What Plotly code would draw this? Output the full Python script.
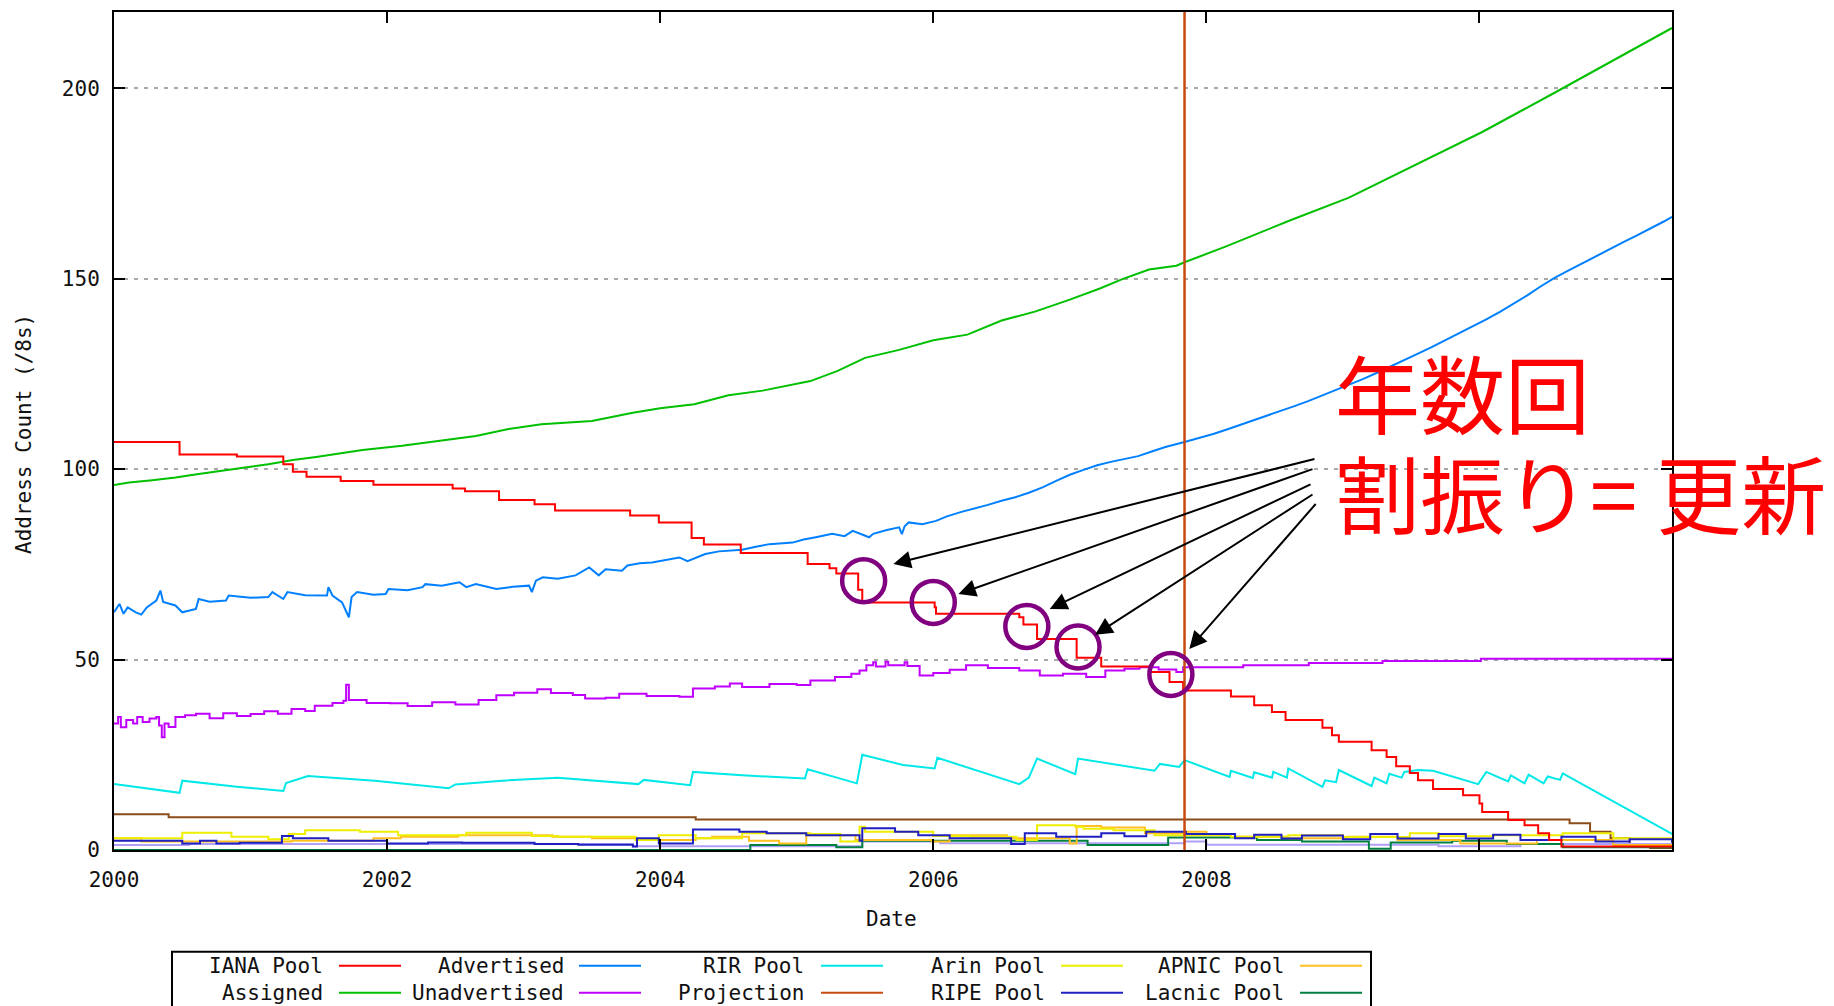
import plotly.graph_objects as go

# ---------------------------------------------------------------------------
# IPv4 address pool history, counts in /8 blocks, keyed by decimal year
# ---------------------------------------------------------------------------
iana_pool = [
    (2000.00, 107.1), (2000.48, 103.8), (2000.90, 103.3), (2001.24, 101.3), (2001.31, 99.3),
    (2001.41, 98.0), (2001.66, 96.9), (2001.90, 95.9), (2002.48, 94.9), (2002.57, 94.2),
    (2002.82, 91.9), (2003.08, 90.8), (2003.23, 89.1), (2003.78, 87.8), (2003.99, 86.0),
    (2004.23, 81.9), (2004.32, 80.2), (2004.59, 78.0), (2005.08, 75.1), (2005.24, 74.0),
    (2005.29, 72.6), (2005.45, 68.3), (2005.48, 65.0), (2006.01, 63.7), (2006.02, 62.0),
    (2006.63, 61.1), (2006.66, 59.2), (2006.76, 55.4), (2007.05, 50.5), (2007.23, 48.2),
    (2007.58, 46.7), (2007.73, 44.1), (2007.83, 41.9), (2008.18, 40.3), (2008.35, 38.0),
    (2008.48, 36.2), (2008.58, 34.1), (2008.85, 32.1), (2008.92, 30.1), (2008.97, 28.4),
    (2009.21, 26.2), (2009.32, 24.4), (2009.39, 22.0), (2009.49, 20.2), (2009.55, 18.3),
    (2009.66, 16.0), (2009.88, 14.4), (2010.00, 12.2), (2010.02, 10.0), (2010.21, 7.9),
    (2010.33, 6.5), (2010.43, 4.4), (2010.51, 2.6), (2010.60, 0.9), (2011.41, 0.9),
]

assigned = [
    (2000.00, 95.8), (2000.11, 96.5), (2000.28, 97.1), (2000.45, 97.8), (2000.62, 98.7),
    (2000.79, 99.5), (2000.96, 100.4), (2001.13, 101.3), (2001.31, 102.4), (2001.48, 103.2),
    (2001.65, 104.1), (2001.82, 105.0), (2002.11, 106.1), (2002.40, 107.6), (2002.65, 108.7),
    (2002.89, 110.5), (2003.13, 111.8), (2003.50, 112.6), (2003.80, 114.8), (2004.00, 116.0),
    (2004.25, 117.0), (2004.50, 119.4), (2004.75, 120.6), (2005.10, 123.1), (2005.30, 125.8),
    (2005.50, 129.2), (2005.75, 131.3), (2006.00, 133.8), (2006.25, 135.3), (2006.50, 139.0),
    (2006.75, 141.4), (2007.00, 144.5), (2007.22, 147.4), (2007.38, 149.8), (2007.58, 152.4),
    (2007.78, 153.4), (2007.84, 154.3), (2008.14, 158.4), (2008.62, 165.4), (2009.04, 171.2),
    (2009.46, 178.7), (2010.02, 188.5), (2010.55, 198.8), (2010.86, 205.0), (2011.41, 215.8),
]

advertised = [
    (2000.00, 62.4), (2000.04, 64.6), (2000.07, 62.0), (2000.10, 63.7), (2000.16, 62.4),
    (2000.20, 61.8), (2000.24, 63.7), (2000.31, 65.5), (2000.34, 68.1), (2000.36, 65.1),
    (2000.45, 64.2), (2000.50, 62.4), (2000.60, 63.3), (2000.62, 65.9), (2000.70, 65.2),
    (2000.82, 65.5), (2000.84, 66.8), (2001.00, 66.2), (2001.13, 66.4), (2001.16, 67.7),
    (2001.24, 65.9), (2001.27, 67.7), (2001.40, 66.9), (2001.56, 66.8), (2001.57, 69.0),
    (2001.60, 66.8), (2001.67, 65.0), (2001.72, 61.1), (2001.74, 66.4), (2001.78, 67.7),
    (2001.90, 67.0), (2001.99, 67.2), (2002.01, 68.5), (2002.15, 68.2), (2002.26, 69.0),
    (2002.28, 69.8), (2002.40, 69.4), (2002.53, 70.3), (2002.58, 69.0), (2002.65, 69.8),
    (2002.80, 68.5), (2002.92, 69.1), (2003.04, 69.4), (2003.06, 67.7), (2003.09, 70.7),
    (2003.14, 71.6), (2003.25, 71.2), (2003.38, 72.1), (2003.48, 74.2), (2003.55, 72.1),
    (2003.60, 73.7), (2003.72, 73.3), (2003.76, 74.7), (2003.85, 75.3), (2003.94, 75.5),
    (2004.05, 76.2), (2004.14, 76.8), (2004.20, 75.8), (2004.33, 77.7), (2004.43, 78.4),
    (2004.60, 78.8), (2004.70, 79.6), (2004.80, 80.3), (2004.97, 80.7), (2005.05, 81.5),
    (2005.14, 82.1), (2005.26, 83.0), (2005.35, 82.4), (2005.41, 83.8), (2005.53, 82.1),
    (2005.56, 83.0), (2005.66, 84.0), (2005.75, 84.7), (2005.77, 82.9), (2005.79, 85.0),
    (2005.82, 86.0), (2005.92, 85.5), (2006.02, 86.4), (2006.10, 87.6), (2006.20, 88.7),
    (2006.30, 89.6), (2006.40, 90.6), (2006.50, 91.7), (2006.60, 92.6), (2006.70, 93.8),
    (2006.80, 95.2), (2006.90, 96.9), (2007.00, 98.5), (2007.10, 99.8), (2007.20, 101.0),
    (2007.30, 101.9), (2007.40, 102.6), (2007.50, 103.4), (2007.60, 104.6), (2007.70, 105.8),
    (2007.84, 107.1), (2007.95, 108.1), (2008.05, 109.2), (2008.15, 110.4), (2008.25, 111.6),
    (2008.35, 112.8), (2008.45, 114.0), (2008.55, 115.3), (2008.65, 116.6), (2008.75, 117.9),
    (2008.85, 119.3), (2008.95, 120.7), (2009.05, 122.2), (2009.15, 123.7), (2009.25, 125.3),
    (2009.35, 126.9), (2009.45, 128.6), (2009.55, 130.3), (2009.65, 132.0), (2009.75, 133.8),
    (2009.85, 135.6), (2009.95, 137.4), (2010.05, 139.3), (2010.15, 141.3), (2010.25, 143.4),
    (2010.35, 145.6), (2010.45, 148.0), (2010.55, 150.2), (2010.65, 152.1), (2010.75, 154.0),
    (2010.85, 155.8), (2010.95, 157.6), (2011.05, 159.5), (2011.15, 161.3), (2011.25, 163.1),
    (2011.35, 165.0), (2011.41, 166.2),
]

unadvertised = [
    (2000.00, 33.2), (2000.03, 34.9), (2000.05, 32.2), (2000.09, 34.1), (2000.14, 33.2),
    (2000.17, 34.9), (2000.21, 33.6), (2000.26, 34.5), (2000.31, 34.9), (2000.33, 32.7),
    (2000.35, 29.6), (2000.37, 33.2), (2000.40, 32.3), (2000.45, 34.9), (2000.52, 35.4),
    (2000.60, 35.8), (2000.70, 34.6), (2000.80, 35.9), (2000.90, 35.2), (2001.00, 35.7),
    (2001.10, 36.4), (2001.20, 35.8), (2001.30, 37.0), (2001.40, 36.5), (2001.47, 37.9),
    (2001.60, 38.6), (2001.68, 39.2), (2001.70, 43.4), (2001.72, 39.4), (2001.85, 38.6),
    (2002.02, 38.5), (2002.15, 37.8), (2002.33, 38.8), (2002.50, 38.2), (2002.67, 39.4),
    (2002.80, 40.6), (2002.93, 41.3), (2003.10, 42.2), (2003.20, 41.2), (2003.36, 40.7),
    (2003.45, 39.8), (2003.60, 40.0), (2003.70, 41.0), (2003.90, 40.4), (2004.14, 40.2),
    (2004.24, 42.4), (2004.40, 42.9), (2004.51, 43.7), (2004.60, 42.8), (2004.80, 43.6),
    (2005.00, 43.3), (2005.10, 44.5), (2005.28, 45.4), (2005.40, 46.3), (2005.46, 47.1),
    (2005.51, 48.5), (2005.56, 49.3), (2005.58, 48.2), (2005.65, 49.4), (2005.67, 48.5),
    (2005.79, 49.3), (2005.81, 48.3), (2005.90, 45.8), (2006.00, 46.5), (2006.12, 47.3),
    (2006.24, 48.5), (2006.40, 47.8), (2006.63, 47.1), (2006.78, 45.8), (2006.95, 46.3),
    (2007.12, 45.4), (2007.26, 47.1), (2007.40, 47.6), (2007.51, 48.0), (2007.65, 47.4),
    (2007.78, 46.7), (2007.83, 48.0), (2008.27, 48.5), (2008.75, 49.1), (2009.29, 49.6),
    (2010.01, 50.2), (2011.41, 50.2),
]

rir_pool = [
    (2000.00, 17.3), (2000.48, 15.0), (2000.50, 18.2), (2000.90, 16.6), (2001.24, 15.5),
    (2001.26, 17.6), (2001.42, 19.4), (2001.91, 18.2), (2002.45, 16.2), (2002.50, 17.2),
    (2002.84, 18.2), (2003.25, 19.0), (2003.84, 17.3), (2003.88, 18.4), (2004.22, 17.0),
    (2004.24, 20.5), (2004.60, 19.6), (2005.06, 18.8), (2005.08, 21.2), (2005.44, 17.5),
    (2005.48, 25.0), (2005.78, 22.3), (2006.01, 21.4), (2006.03, 24.2), (2006.63, 17.3),
    (2006.70, 19.0), (2006.76, 24.0), (2007.04, 19.9), (2007.06, 24.0), (2007.51, 21.4),
    (2007.62, 20.8), (2007.66, 22.6), (2007.80, 21.8), (2007.84, 23.6), (2008.17, 19.2),
    (2008.18, 20.8), (2008.34, 18.9), (2008.35, 20.4), (2008.48, 19.0), (2008.49, 20.5),
    (2008.59, 19.0), (2008.60, 21.4), (2008.85, 16.6), (2008.87, 18.3), (2008.95, 17.8),
    (2008.97, 21.0), (2009.21, 16.8), (2009.23, 19.0), (2009.32, 17.5), (2009.34, 20.0),
    (2009.43, 19.0), (2009.45, 20.5), (2009.55, 21.0), (2009.66, 20.8), (2009.99, 17.3),
    (2010.05, 20.5), (2010.21, 18.0), (2010.23, 19.6), (2010.33, 17.5), (2010.36, 19.8),
    (2010.47, 17.5), (2010.50, 19.3), (2010.59, 18.4), (2010.61, 20.1), (2011.41, 4.2),
]

projection_x = [2007.84, 2007.84]
projection_y = [0, 220]

arin_pool = [
    (2000.00, 3.1), (2000.50, 4.5), (2000.86, 3.5), (2001.13, 2.8), (2001.28, 4.2),
    (2001.40, 5.2), (2001.80, 4.8), (2002.08, 3.9), (2002.58, 4.5), (2003.06, 3.7),
    (2003.25, 3.5), (2003.82, 2.6), (2003.99, 3.9), (2004.26, 3.1), (2004.60, 4.4),
    (2005.10, 4.2), (2005.32, 2.2), (2005.46, 6.1), (2005.50, 4.8), (2006.00, 3.7),
    (2006.27, 3.5), (2006.61, 2.6), (2006.76, 6.5), (2007.04, 6.1), (2007.10, 5.6),
    (2007.32, 5.2), (2007.62, 3.9), (2008.18, 3.5), (2008.60, 3.9), (2009.00, 3.4),
    (2009.49, 4.4), (2009.70, 3.6), (2010.10, 3.9), (2010.61, 4.4), (2010.98, 3.1),
    (2011.41, 2.6),
]

apnic_pool = [
    (2000.00, 3.1), (2000.20, 2.2), (2001.30, 2.4), (2001.90, 3.1), (2002.10, 3.5),
    (2002.52, 3.9), (2003.21, 3.5), (2003.50, 3.1), (2003.83, 2.6), (2004.26, 3.1),
    (2004.38, 3.5), (2004.65, 2.4), (2004.87, 1.7), (2005.07, 3.9), (2005.43, 2.6),
    (2005.99, 2.2), (2006.12, 3.9), (2006.54, 3.1), (2007.00, 1.7), (2007.05, 6.3),
    (2007.23, 5.9), (2007.55, 4.4), (2007.85, 4.8), (2008.00, 4.2), (2008.21, 3.5),
    (2008.60, 3.1), (2009.03, 3.5), (2009.40, 2.6), (2009.86, 1.7), (2010.42, 2.6),
    (2010.98, 1.3), (2011.41, 1.3),
]

ripe_pool = [
    (2000.00, 2.4), (2000.50, 1.7), (2000.63, 2.4), (2000.75, 1.7), (2000.92, 1.9),
    (2001.23, 3.7), (2001.31, 3.1), (2001.57, 2.4), (2002.00, 1.7), (2002.30, 2.0),
    (2002.55, 1.9), (2003.08, 1.6), (2003.40, 1.4), (2003.80, 0.9), (2003.83, 3.1),
    (2003.99, 1.7), (2004.24, 5.4), (2004.58, 4.8), (2004.78, 4.4), (2005.07, 3.9),
    (2005.46, 2.4), (2005.48, 5.7), (2005.72, 4.8), (2005.89, 3.9), (2006.12, 3.1),
    (2006.57, 1.6), (2006.67, 4.4), (2006.90, 3.5), (2007.23, 4.4), (2007.40, 3.6),
    (2007.56, 4.8), (2007.85, 4.2), (2008.21, 3.1), (2008.35, 4.0), (2008.55, 3.0),
    (2008.70, 3.8), (2009.00, 2.8), (2009.20, 4.2), (2009.40, 3.0), (2009.70, 4.2),
    (2009.90, 3.0), (2010.10, 4.0), (2010.30, 2.6), (2010.60, 3.5), (2010.85, 2.2),
    (2011.10, 2.8), (2011.41, 1.9),
]

lacnic_pool = [
    (2000.00, 0.0), (2004.66, 1.3), (2005.29, 0.7), (2005.48, 2.4), (2006.35, 2.4),
    (2007.13, 1.3), (2007.72, 3.3), (2008.37, 2.6), (2008.70, 2.2), (2009.19, 0.3),
    (2009.35, 2.0), (2009.80, 2.4), (2010.20, 1.6), (2010.61, 0.7), (2011.41, 0.7),
]

afrinic_pool = [
    (2000.00, 1.3), (2000.55, 1.6), (2003.80, 1.0), (2005.48, 2.2), (2006.05, 1.8),
    (2007.84, 2.2), (2008.00, 1.4), (2009.70, 1.0), (2010.30, 1.6), (2011.41, 0.8),
]

reserved = [
    (2000.00, 9.4), (2000.40, 8.6), (2004.26, 8.0), (2010.66, 7.0), (2010.81, 4.8),
    (2010.96, 3.1), (2011.10, 1.3), (2011.25, 0.5), (2011.41, 0.5),
]

y_tick_vals = [0, 50, 100, 150, 200]
x_tick_vals = [2000, 2002, 2004, 2006, 2008, 2010]
x_tick_text = ["2000", "2002", "2004", "2006", "2008", ""]

# ---------------------------------------------------------------------------
# Page geometry (pixels)
# ---------------------------------------------------------------------------
W, H = 1834, 1006
PL, PR, PT, PB = 114, 1672, 10, 850
X_RANGE = [2000, 2011.41]
Y_RANGE = [0, 220]
MONO = "DejaVu Sans Mono"


def paper_x(p):
    return (p - PL) / (PR - PL)


def paper_y(p):
    return (PB - p) / (PB - PT)


def split(pairs):
    return [p[0] for p in pairs], [p[1] for p in pairs]


fig = go.Figure()

# (name, data, colour, line shape) in drawing order
series = [
    ("Reserved", reserved, "#8a4c18", "hv"),
    ("AfriNIC Pool", afrinic_pool, "#b0a0f8", "hv"),
    ("Lacnic Pool", lacnic_pool, "#008040", "hv"),
    ("APNIC Pool", apnic_pool, "#ffc020", "hv"),
    ("Arin Pool", arin_pool, "#eeee00", "hv"),
    ("RIPE Pool", ripe_pool, "#2020c0", "hv"),
    ("RIR Pool", rir_pool, "#00e8e8", "linear"),
    ("Unadvertised", unadvertised, "#c000ff", "hv"),
    ("Advertised", advertised, "#0080ff", "linear"),
    ("Assigned", assigned, "#00c000", "linear"),
    ("IANA Pool", iana_pool, "#ff0000", "hv"),
]
for name, data, colour, shape in series:
    xs, ys = split(data)
    fig.add_trace(go.Scatter(
        x=xs, y=ys, name=name, mode="lines",
        line=dict(color=colour, width=2, shape=shape),
        showlegend=False, hoverinfo="skip",
    ))

fig.add_trace(go.Scatter(
    x=projection_x, y=projection_y, name="Projection", mode="lines",
    line=dict(color="#c84a10", width=2.5), showlegend=False, hoverinfo="skip",
))

axis_common = dict(
    showline=True, linecolor="black", linewidth=2, mirror="allticks",
    ticks="inside", ticklen=11, tickwidth=2, tickcolor="black",
    tickfont=dict(family=MONO, size=21, color="#111111"),
    zeroline=False,
)

fig.update_xaxes(
    range=X_RANGE, tickvals=x_tick_vals, ticktext=x_tick_text,
    showgrid=False, ticklabelstandoff=10, **axis_common,
)
fig.update_yaxes(
    range=Y_RANGE, tickvals=y_tick_vals,
    showgrid=True, gridcolor="#a8a8a8", gridwidth=2, griddash="4px,6px",
    ticklabelstandoff=8, **axis_common,
)

annotations = []
shapes = []

# axis titles
annotations.append(dict(
    text="Date", xref="paper", yref="paper", x=paper_x(891), y=paper_y(919),
    xanchor="center", yanchor="middle", showarrow=False,
    font=dict(family=MONO, size=21, color="#111111"),
))
annotations.append(dict(
    text="Address Count (/8s)", xref="paper", yref="paper", x=paper_x(24), y=paper_y(433),
    xanchor="center", yanchor="middle", showarrow=False, textangle=-90,
    font=dict(family=MONO, size=21, color="#111111"),
))

# legend (two visible rows of five, text right-aligned before the line sample)
legend_rows = [
    [("IANA Pool", "#ff0000"), ("Advertised", "#0080ff"), ("RIR Pool", "#00e8e8"),
     ("Arin Pool", "#eeee00"), ("APNIC Pool", "#ffc020")],
    [("Assigned", "#00c000"), ("Unadvertised", "#c000ff"), ("Projection", "#c84a10"),
     ("RIPE Pool", "#2020c0"), ("Lacnic Pool", "#008040")],
]
text_end = [325, 566, 806, 1047, 1286]
sample_start = [339, 579, 821, 1061, 1300]
sample_len = 62
row_y = [966, 993]

shapes.append(dict(
    type="rect", xref="paper", yref="paper",
    x0=paper_x(172), x1=paper_x(1371), y0=paper_y(952), y1=paper_y(1040),
    line=dict(color="black", width=2), fillcolor="rgba(0,0,0,0)", layer="above",
))
for r, row in enumerate(legend_rows):
    for c, (label, colour) in enumerate(row):
        annotations.append(dict(
            text=label, xref="paper", yref="paper",
            x=paper_x(text_end[c]), y=paper_y(row_y[r]),
            xanchor="right", yanchor="middle", showarrow=False,
            font=dict(family=MONO, size=21, color="#111111"),
        ))
        shapes.append(dict(
            type="line", xref="paper", yref="paper",
            x0=paper_x(sample_start[c]), x1=paper_x(sample_start[c] + sample_len),
            y0=paper_y(row_y[r]), y1=paper_y(row_y[r]),
            line=dict(color=colour, width=2),
        ))

# callout text
callout_lines = [("年数回", 389), ("割振り= 更新", 490)]
for line_text, centre_y in callout_lines:
    annotations.append(dict(
        text=line_text, xref="paper", yref="paper", x=paper_x(1333), y=paper_y(centre_y),
        xanchor="left", yanchor="middle", showarrow=False,
        font=dict(family="Noto Sans CJK JP", size=85, color="#ff0000"),
    ))

# circled allocation steps and arrows pointing at them
circle_centres = [(2005.49, 70.7), (2006.00, 65.0), (2006.685, 58.7), (2007.06, 53.3), (2007.74, 46.1)]
arrow_tips = [(2005.708, 75.1), (2006.184, 67.2), (2006.853, 63.3), (2007.185, 56.5), (2007.875, 52.8)]
arrow_tails_px = [(1316, 458), (1314, 468), (1312, 483), (1314, 493), (1317, 502)]

R = 21.5
for cx, cy in circle_centres:
    shapes.append(dict(
        type="circle", xref="x", yref="y", xsizemode="pixel", ysizemode="pixel",
        xanchor=cx, yanchor=cy, x0=-R, x1=R, y0=-R, y1=R,
        line=dict(color="#800080", width=4.5), layer="above",
    ))

px_per_year = (PR - PL) / (X_RANGE[1] - X_RANGE[0])
px_per_unit = (PB - PT) / (Y_RANGE[1] - Y_RANGE[0])
for (tx, ty), (qx, qy) in zip(arrow_tips, arrow_tails_px):
    tip_px = PL + (tx - X_RANGE[0]) * px_per_year
    tip_py = PB - (ty - Y_RANGE[0]) * px_per_unit
    annotations.append(dict(
        text="", xref="x", yref="y", x=tx, y=ty,
        ax=qx - tip_px, ay=qy - tip_py, axref="pixel", ayref="pixel",
        showarrow=True, arrowhead=2, arrowsize=1.75, arrowwidth=2, arrowcolor="black",
    ))

fig.update_layout(
    width=W, height=H,
    margin=dict(l=PL, r=W - PR, t=PT, b=H - PB, pad=0),
    paper_bgcolor="white", plot_bgcolor="white",
    showlegend=False,
    annotations=annotations,
    shapes=shapes,
    hovermode=False,
)

fig.write_html("out.html")
